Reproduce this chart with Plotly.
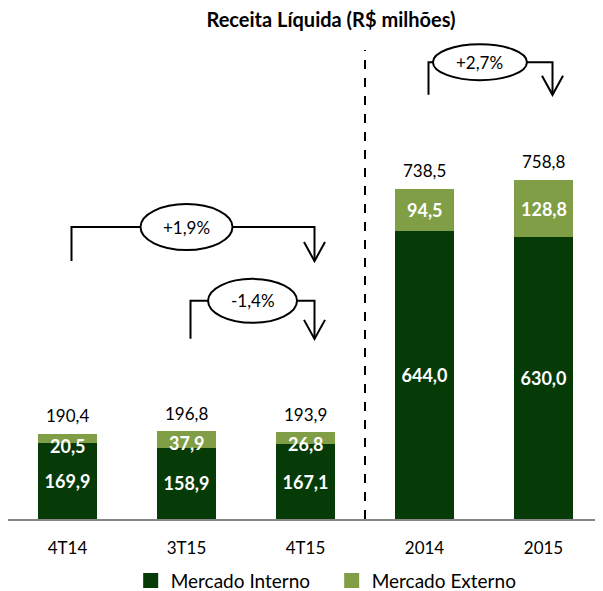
import plotly.graph_objects as go

# data
categorias = ["4T14", "3T15", "4T15", "2014", "2015"]
mercado_interno = [169.9, 158.9, 167.1, 644.0, 630.0]
mercado_externo = [20.5, 37.9, 26.8, 94.5, 128.8]
receita_total = [190.4, 196.8, 193.9, 738.5, 758.8]

# growth brackets: label, from bar, to bar
crescimento = ["+1,9%", "-1,4%", "+2,7%"]
cresc_de = [0, 1, 3]
cresc_para = [2, 2, 4]

verde_escuro = "#063a07"
verde_claro = "#7f9e45"
fonte = "Lato"

idx = list(range(len(categorias)))

# the page body has an 8px margin, so the figure is 8px smaller than the window
W, H = 595, 583
px_x = 1 / 119.0    # category units per pixel
px_y = 1 / 0.447    # value units per pixel

def fmt(v):
    return f"{v:.1f}".replace(".", ",")

fig = go.Figure()
fig.add_trace(go.Bar(
    x=idx, y=mercado_interno, name="Mercado Interno", width=0.5,
    marker=dict(color=verde_escuro, line=dict(width=0)),
    texttemplate="<b>%{y:.1f}</b>", textposition="inside", insidetextanchor="middle",
    constraintext="none", insidetextfont=dict(color="white", size=18, family=fonte),
    showlegend=False,
))
fig.add_trace(go.Bar(
    x=idx, y=mercado_externo, name="Mercado Externo", width=0.5,
    marker=dict(color=verde_claro, line=dict(width=0)),
    showlegend=False,
))

# legend entries (bigger squares than the bar legend icon)
for nome, cor in [("Mercado Interno", verde_escuro), ("Mercado Externo", verde_claro)]:
    fig.add_trace(go.Scatter(x=[None], y=[None], mode="markers", name=nome,
                             marker=dict(symbol="square", size=15, color=cor)))

# labels of the light segments: centred, but kept close below the bar top when small
for i in idx:
    y_lab = min(mercado_interno[i] + mercado_externo[i] / 2, receita_total[i] - 12 * px_y)
    fig.add_annotation(x=i, y=y_lab, text=f"<b>{fmt(mercado_externo[i])}</b>", showarrow=False,
                       yanchor="middle", font=dict(size=18, color="white", family=fonte))
    fig.add_annotation(x=i, y=receita_total[i], text=fmt(receita_total[i]), showarrow=False,
                       yanchor="middle", yshift=18, font=dict(size=17, color="black", family=fonte))

#---------------------------------------------------------------------------------------
# brackets with ellipse and arrow (pixel sizes converted to data units)
niveis_topo = [653, 488, 1022]
niveis_base = [577, 403, 949]
elipse_cx = [1.0, 1.555, 3.466]
elipse_w = [92, 89, 94]
elipse_h = [46, 44, 36]
linha = dict(color="black", width=2)

for i, txt in enumerate(crescimento):
    x0 = cresc_de[i] + 4 * px_x
    x1 = cresc_para[i] + 9 * px_x
    top = niveis_topo[i]
    bot = niveis_base[i]
    ex0 = elipse_cx[i] - elipse_w[i] / 2 * px_x
    ex1 = elipse_cx[i] + elipse_w[i] / 2 * px_x
    fig.add_shape(type="path", path=f"M {x0},{bot} L {x0},{top} L {ex0},{top}", line=linha)
    fig.add_shape(type="path", path=f"M {ex1},{top} L {x1},{top} L {x1},{bot}", line=linha)
    fig.add_shape(type="path",
                  path=f"M {x1 - 10.5*px_x},{bot + 19*px_y} L {x1},{bot} L {x1 + 10.5*px_x},{bot + 19*px_y}",
                  line=linha)
    fig.add_shape(type="circle", x0=ex0, x1=ex1,
                  y0=top - elipse_h[i] / 2 * px_y, y1=top + elipse_h[i] / 2 * px_y,
                  line=linha, fillcolor="white")
    fig.add_annotation(x=elipse_cx[i], y=top, text=txt, showarrow=False,
                       font=dict(size=17, color="black", family=fonte))

# dashed separator between quarters and years
fig.add_shape(type="line", x0=2.5, x1=2.5, y0=0, y1=1049,
              line=dict(color="black", width=2, dash="dash"))

fig.update_layout(
    width=W, height=H,
    margin=dict(l=0, r=0, t=22, b=72, autoexpand=False),
    plot_bgcolor="white", paper_bgcolor="white",
    barmode="stack", separators=",.",
    font=dict(family=fonte, color="black"),
    title=dict(text="<b>Receita Líquida (R$ milhões)</b>", x=323 / W, xanchor="center",
               xref="container", y=1 - 12 / H, yanchor="middle",
               font=dict(size=20, family=fonte)),
    xaxis=dict(range=[-0.5, 4.5], tickvals=idx, ticktext=categorias, showgrid=False,
               zeroline=False, showline=True, linecolor="#868686", linewidth=2,
               ticks="", tickfont=dict(size=17, family=fonte), ticklabelstandoff=13,
               automargin=False),
    yaxis=dict(range=[0, 1094], visible=False, showgrid=False, automargin=False),
    legend=dict(orientation="h", x=0.544, xanchor="center", y=-0.126, yanchor="middle",
                font=dict(size=19, family=fonte), traceorder="normal",
                entrywidth=156, entrywidthmode="pixels"),
    showlegend=True,
)

fig.write_html("out.html")
